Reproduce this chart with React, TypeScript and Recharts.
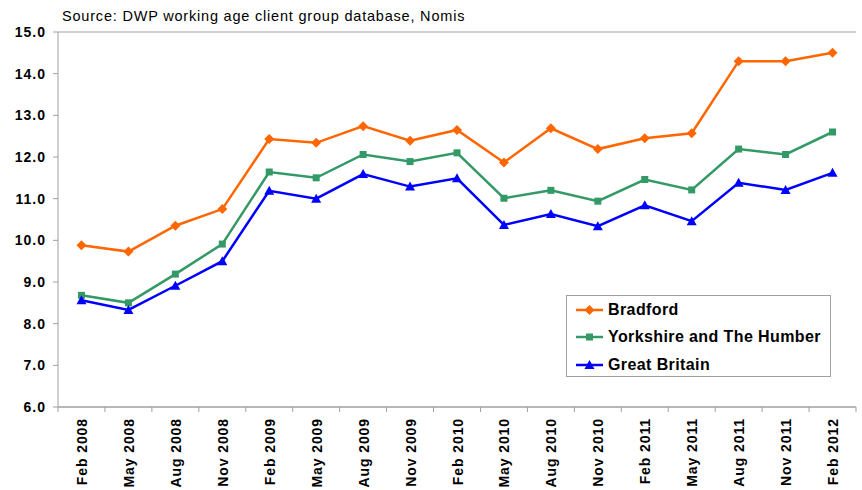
import { LineChart, Line, XAxis, YAxis, CartesianGrid } from 'recharts'

const months = [
  'Feb 2008', 'May 2008', 'Aug 2008', 'Nov 2008',
  'Feb 2009', 'May 2009', 'Aug 2009', 'Nov 2009',
  'Feb 2010', 'May 2010', 'Aug 2010', 'Nov 2010',
  'Feb 2011', 'May 2011', 'Aug 2011', 'Nov 2011',
  'Feb 2012',
]

const bradford = [9.88, 9.73, 10.35, 10.75, 12.43, 12.34, 12.74, 12.39, 12.65, 11.87, 12.69, 12.19, 12.45, 12.57, 14.3, 14.3, 14.5]
const yorkshire = [8.68, 8.5, 9.19, 9.91, 11.64, 11.5, 12.06, 11.89, 12.1, 11.01, 11.2, 10.94, 11.46, 11.21, 12.19, 12.06, 12.6]
const britain = [8.56, 8.33, 8.91, 9.5, 11.19, 11.0, 11.59, 11.29, 11.49, 10.37, 10.63, 10.34, 10.84, 10.46, 11.38, 11.21, 11.62]

const yTicks = [6, 7, 8, 9, 10, 11, 12, 13, 14, 15]

const data = months.map((m, i) => ({
  month: m,
  bradford: bradford[i],
  yorkshire: yorkshire[i],
  britain: britain[i],
}))

const FONT = 'Arial, "Liberation Sans", Helvetica, sans-serif'
const ORANGE = '#ff6600'
const GREEN = '#339966'
const BLUE = '#0000ff'
const GRID = '#a0a0a0'

const PLOT_W = 798
const HALF_BAND = PLOT_W / months.length / 2

type Shape = 'diamond' | 'square' | 'triangle'

function marker(shape: Shape, cx: number, cy: number, color: string, key?: string) {
  if (shape === 'diamond') {
    const r = 5
    return (
      <polygon key={key} points={`${cx},${cy - r} ${cx + r},${cy} ${cx},${cy + r} ${cx - r},${cy}`} fill={color} />
    )
  }
  if (shape === 'square') {
    const r = 3.5
    return <rect key={key} x={cx - r} y={cy - r} width={r * 2} height={r * 2} fill={color} />
  }
  const r = 5
  return (
    <polygon key={key} points={`${cx},${cy - r} ${cx + r},${cy + r - 1} ${cx - r},${cy + r - 1}`} fill={color} />
  )
}

const makeDot = (shape: Shape, color: string) => (props: any) => {
  const { cx, cy, index } = props
  if (cx == null || cy == null) return <g key={index} />
  return marker(shape, cx, cy, color, `dot-${shape}-${index}`)
}

// category labels run bottom-to-top; tick marks sit on the band edges
const MonthTick = (props: any) => {
  const { x, y, payload, index } = props
  return (
    <g>
      <line x1={x - HALF_BAND} y1={y} x2={x - HALF_BAND} y2={y + 5} stroke={GRID} />
      {index === months.length - 1 && (
        <line x1={x + HALF_BAND} y1={y} x2={x + HALF_BAND} y2={y + 5} stroke={GRID} />
      )}
      <text
        x={x + 5.5}
        y={y + 11}
        transform={`rotate(-90, ${x + 5.5}, ${y + 11})`}
        textAnchor="end"
        fontFamily={FONT}
        fontSize={14}
        fontWeight="bold"
        letterSpacing={0.9}
        fill="#000"
      >
        {payload.value}
      </text>
    </g>
  )
}

const legendItems = [
  { label: 'Bradford', color: ORANGE, shape: 'diamond' as Shape },
  { label: 'Yorkshire and The Humber', color: GREEN, shape: 'square' as Shape },
  { label: 'Great Britain', color: BLUE, shape: 'triangle' as Shape },
]

const LegendBox = () => (
  <div
    style={{
      position: 'absolute',
      left: 566,
      top: 295,
      width: 265,
      height: 82,
      border: '1px solid #a0a0a0',
      background: '#fff',
      boxSizing: 'border-box',
      padding: '0 0 0 9px',
    }}
  >
    {legendItems.map((it) => (
      <div key={it.label} style={{ display: 'flex', alignItems: 'center', height: 27.5 }}>
        <svg width={32} height={14}>
          <line x1={0} y1={7} x2={27} y2={7} stroke={it.color} strokeWidth={2.5} />
          {marker(it.shape, 13.5, 7, it.color)}
        </svg>
        <span
          style={{
            fontFamily: FONT,
            fontSize: 16,
            fontWeight: 'bold',
            letterSpacing: 0.4,
            color: '#000',
            whiteSpace: 'nowrap',
          }}
        >
          {it.label}
        </span>
      </div>
    ))}
  </div>
)

export default function App() {
  return (
    <div style={{ position: 'absolute', left: 0, top: 0, width: 862, height: 490, background: '#fff', overflow: 'hidden' }}>
      <div
        style={{
          position: 'absolute',
          left: 62,
          top: 8,
          fontFamily: FONT,
          fontSize: 14.5,
          letterSpacing: 0.8,
          lineHeight: '17px',
          color: '#000',
          whiteSpace: 'nowrap',
        }}
      >
        Source: DWP working age client group database, Nomis
      </div>
      <LineChart width={862} height={490} data={data} margin={{ top: 32, right: 6, bottom: 0, left: 0 }}>
        <CartesianGrid vertical={false} stroke={GRID} strokeWidth={1} />
        <XAxis
          dataKey="month"
          interval={0}
          height={83}
          padding={{ left: HALF_BAND, right: HALF_BAND }}
          stroke={GRID}
          tickLine={false}
          tickSize={0}
          tickMargin={0}
          tick={<MonthTick />}
        />
        <YAxis
          yAxisId="left"
          domain={[6, 15]}
          ticks={yTicks}
          interval={0}
          width={58}
          stroke={GRID}
          tickSize={5}
          tickMargin={7}
          tickFormatter={(v: number) => v.toFixed(1)}
          tick={{ fontFamily: FONT, fontSize: 14, fontWeight: 'bold', fill: '#000', letterSpacing: 1 }}
        />
        <YAxis
          yAxisId="right"
          orientation="right"
          domain={[6, 15]}
          width={0}
          stroke={GRID}
          tick={false}
          tickLine={false}
        />
        <Line
          yAxisId="left"
          type="linear"
          dataKey="bradford"
          name="Bradford"
          stroke={ORANGE}
          strokeWidth={2.5}
          dot={makeDot('diamond', ORANGE)}
          isAnimationActive={false}
        />
        <Line
          yAxisId="left"
          type="linear"
          dataKey="yorkshire"
          name="Yorkshire and The Humber"
          stroke={GREEN}
          strokeWidth={2.5}
          dot={makeDot('square', GREEN)}
          isAnimationActive={false}
        />
        <Line
          yAxisId="left"
          type="linear"
          dataKey="britain"
          name="Great Britain"
          stroke={BLUE}
          strokeWidth={2.5}
          dot={makeDot('triangle', BLUE)}
          isAnimationActive={false}
        />
      </LineChart>
      <LegendBox />
    </div>
  )
}
